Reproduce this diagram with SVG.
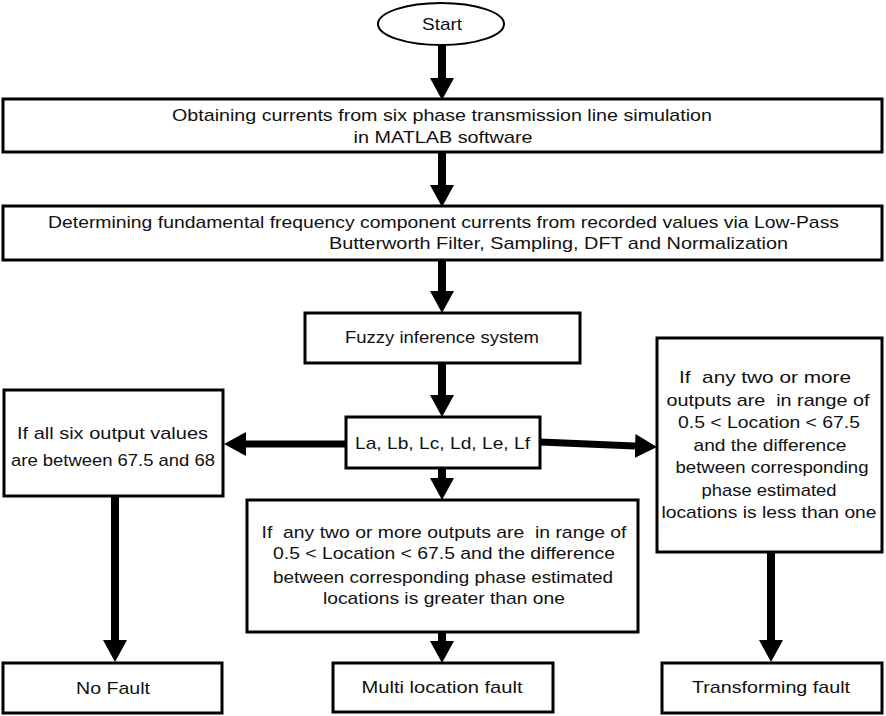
<svg xmlns="http://www.w3.org/2000/svg" width="886" height="716" viewBox="0 0 886 716">
<style>
.box{fill:#fff;stroke:#000;stroke-width:3}
.t{font-family:"Liberation Sans",Arial,sans-serif;font-size:17px;fill:#111;text-anchor:middle;white-space:pre}
.c{stroke:#000;stroke-width:8;fill:none;marker-end:url(#ah)}
</style>
<defs>
<marker id="ah" markerUnits="userSpaceOnUse" markerWidth="24" markerHeight="26" refX="0" refY="12" orient="auto" viewBox="0 0 24 26">
<path d="M0,0 L22,12 L0,24 z" fill="#000"/>
</marker>
</defs>
<rect width="886" height="716" fill="#fff"/>
<g id="connectors">
<line class="c" x1="442" y1="45" x2="442" y2="78"/>
<line class="c" x1="442" y1="152" x2="442" y2="185"/>
<line class="c" x1="442" y1="260" x2="442" y2="291"/>
<line class="c" x1="442" y1="363" x2="442" y2="395"/>
<line class="c" x1="442" y1="468" x2="442" y2="478"/>
<line class="c" x1="442" y1="632" x2="442" y2="641"/>
<line class="c" x1="346" y1="444" x2="246" y2="444" style="stroke-width:7"/>
<line class="c" x1="540" y1="442" x2="635" y2="446" style="stroke-width:7"/>
<line class="c" x1="115" y1="496" x2="115" y2="640"/>
<line class="c" x1="771" y1="552" x2="771" y2="640"/>
</g>
<g id="start">
<ellipse cx="441" cy="24" rx="63" ry="21" fill="#fff" stroke="#000" stroke-width="2"/>
<text class="t" x="442" y="30" textLength="40" lengthAdjust="spacingAndGlyphs">Start</text>
</g>
<g id="obtain">
<rect class="box" x="3" y="99" width="879" height="53"/>
<text class="t" x="442" y="121" textLength="540" lengthAdjust="spacingAndGlyphs">Obtaining currents from six phase transmission line simulation</text>
<text class="t" x="443" y="143" textLength="179" lengthAdjust="spacingAndGlyphs">in MATLAB software</text>
</g>
<g id="determine">
<rect class="box" x="3" y="206" width="879" height="54"/>
<text class="t" x="443.5" y="228" textLength="791" lengthAdjust="spacingAndGlyphs">Determining fundamental frequency component currents from recorded values via Low-Pass</text>
<text class="t" x="558.5" y="249" textLength="459" lengthAdjust="spacingAndGlyphs">Butterworth Filter, Sampling, DFT and Normalization</text>
</g>
<g id="fuzzy">
<rect class="box" x="305" y="313" width="275" height="50"/>
<text class="t" x="442" y="343" textLength="194" lengthAdjust="spacingAndGlyphs">Fuzzy inference system</text>
</g>
<g id="outputs">
<rect class="box" x="346" y="417" width="194" height="51"/>
<text class="t" x="442.5" y="449" textLength="175" lengthAdjust="spacingAndGlyphs">La, Lb, Lc, Ld, Le, Lf</text>
</g>
<g id="allsix">
<rect class="box" x="4" y="390" width="219" height="106"/>
<text class="t" x="112.5" y="439" textLength="191" lengthAdjust="spacingAndGlyphs">If all six output values</text>
<text class="t" x="113" y="466" textLength="204" lengthAdjust="spacingAndGlyphs">are between 67.5 and 68</text>
</g>
<g id="lessthan">
<rect class="box" x="657" y="338" width="225" height="214"/>
<text class="t" x="765" y="383" textLength="172" lengthAdjust="spacingAndGlyphs">If  any two or more</text>
<text class="t" x="768" y="406" textLength="203" lengthAdjust="spacingAndGlyphs">outputs are  in range of</text>
<text class="t" x="769" y="428" textLength="182" lengthAdjust="spacingAndGlyphs">0.5 &lt; Location &lt; 67.5</text>
<text class="t" x="770" y="451" textLength="153" lengthAdjust="spacingAndGlyphs">and the difference</text>
<text class="t" x="772" y="473" textLength="193" lengthAdjust="spacingAndGlyphs">between corresponding</text>
<text class="t" x="769" y="496" textLength="135" lengthAdjust="spacingAndGlyphs">phase estimated</text>
<text class="t" x="769" y="518" textLength="215" lengthAdjust="spacingAndGlyphs">locations is less than one</text>
</g>
<g id="greaterthan">
<rect class="box" x="247" y="500" width="391" height="132"/>
<text class="t" x="444" y="538" textLength="365" lengthAdjust="spacingAndGlyphs">If  any two or more outputs are  in range of</text>
<text class="t" x="444" y="559" textLength="342" lengthAdjust="spacingAndGlyphs">0.5 &lt; Location &lt; 67.5 and the difference</text>
<text class="t" x="443" y="583" textLength="340" lengthAdjust="spacingAndGlyphs">between corresponding phase estimated</text>
<text class="t" x="444" y="604" textLength="242" lengthAdjust="spacingAndGlyphs">locations is greater than one</text>
</g>
<g id="nofault">
<rect class="box" x="3" y="663" width="219" height="50"/>
<text class="t" x="113" y="694" textLength="74" lengthAdjust="spacingAndGlyphs">No Fault</text>
</g>
<g id="multifault">
<rect class="box" x="333" y="663" width="220" height="49"/>
<text class="t" x="442" y="693" textLength="161" lengthAdjust="spacingAndGlyphs">Multi location fault</text>
</g>
<g id="transfault">
<rect class="box" x="662" y="663" width="220" height="50"/>
<text class="t" x="771" y="693" textLength="158" lengthAdjust="spacingAndGlyphs">Transforming fault</text>
</g>
</svg>
